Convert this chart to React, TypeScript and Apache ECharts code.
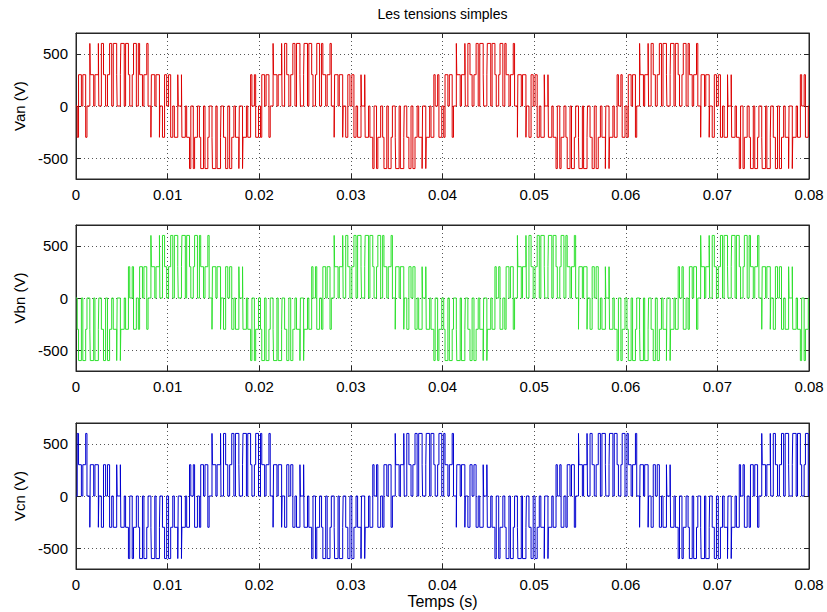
import React, { useEffect, useRef } from 'react';
import * as echarts from 'echarts';

// ---- texts ----
const chartTitle = 'Les tensions simples';
const xAxisTitle = 'Temps (s)';
const phaseNames = ['Van (V)', 'Vbn (V)', 'Vcn (V)'];
const phaseColors = ['#dc0000', '#2ee02e', '#0000d0'];

// ---- axes ----
const xMin = 0;
const xMax = 0.08;
const xStep = 0.01;
const yMin = -700;
const yMax = 700;
const yStep = 500;

// ---- waveform ----
// One fundamental period (0.02 s) of Van, cut into 15 carrier periods.
// Each entry: [time in carrier periods, new voltage level in V].
const fundamentalPeriod = 0.02;
const carriersPerPeriod = 15;
const periodsShown = 4;
// Vbn and Vcn repeat the same pattern 120° and 240° later (5 and 10 carrier periods).
const phaseLagCycles = [0, 5, 10];
const vanOnePeriod: number[][] = [
  [0.101, -300], [0.208, 300], [0.44, 0], [0.56, 300], [0.792, -300], [0.899, 0],
  [1.132, 600], [1.169, 300], [1.449, 0], [1.551, 300], [1.831, 600], [1.868, 0],
  [2.077, 600], [2.25, 300], [2.423, 0], [2.577, 300], [2.75, 600], [2.923, 0],
  [3.051, 600], [3.331, 300], [3.368, 0], [3.632, 300], [3.669, 600], [3.949, 0],
  [4.06, 600], [4.292, 300], [4.399, 0], [4.601, 300], [4.708, 600], [4.94, 0],
  [5.101, 600], [5.208, 300], [5.44, 0], [5.56, 300], [5.792, 600], [5.899, 0],
  [6.132, -300], [6.169, 300], [6.449, 0], [6.551, 300], [6.831, -300], [6.868, 0],
  [7.077, -300], [7.25, 300], [7.423, 0], [7.577, 300], [7.75, -300], [7.923, 0],
  [8.051, -300], [8.331, 300], [8.368, 0], [8.632, 300], [8.669, -300], [8.949, 0],
  [9.06, -300], [9.292, -600], [9.399, 0], [9.601, -600], [9.708, -300], [9.94, 0],
  [10.101, -300], [10.208, -600], [10.44, 0], [10.56, -600], [10.792, -300], [10.899, 0],
  [11.132, -300], [11.169, -600], [11.449, 0], [11.551, -600], [11.831, -300], [11.868, 0],
  [12.077, -300], [12.25, -600], [12.423, 0], [12.577, -600], [12.75, -300], [12.923, 0],
  [13.051, -300], [13.331, -600], [13.368, 0], [13.632, -600], [13.669, -300], [13.949, 0],
  [14.06, -300], [14.292, 300], [14.399, 0], [14.601, 300], [14.708, -300], [14.94, 0],
];

function buildPhase(lag: number): number[][] {
  const tc = fundamentalPeriod / carriersPerPeriod;
  const shifted = vanOnePeriod
    .map(([t, l]) => [(t + lag) % carriersPerPeriod, l])
    .sort((a, b) => a[0] - b[0]);
  const pts: number[][] = [[0, 0]];
  let prev = 0;
  for (let p = 0; p < periodsShown; p++) {
    for (const [t, l] of shifted) {
      const x = (p * carriersPerPeriod + t) * tc;
      pts.push([x, prev], [x, l]);
      prev = l;
    }
  }
  pts.push([periodsShown * fundamentalPeriod, prev]);
  return pts;
}

const FONT = '"Liberation Sans", Arial, Helvetica, sans-serif';
const AXIS_COLOR = '#262626';

export default function App() {
  const ref = useRef<HTMLDivElement>(null);
  useEffect(() => {
    if (!ref.current) return;
    const chart = echarts.init(ref.current, undefined, { renderer: 'svg' });
    const gridTops = [33, 225, 423];
    const gridHeight = 146;
    const grids = gridTops.map((top) => ({
      left: 76,
      right: 18,
      top,
      height: gridHeight,
      show: true,
      borderColor: AXIS_COLOR,
      borderWidth: 1,
      backgroundColor: '#fff',
    }));
    const tick = { show: true, inside: true, length: 5, lineStyle: { color: AXIS_COLOR, width: 1 } };
    const axisLine = { show: true, onZero: false, lineStyle: { color: AXIS_COLOR, width: 1 } };
    const gridLine = { show: true, lineStyle: { color: '#555', width: 1, type: [1, 3] } };
    const labelStyle = { color: '#000', fontSize: 15, fontFamily: FONT };

    const xAxes: any[] = [];
    const yAxes: any[] = [];
    for (let i = 0; i < 3; i++) {
      xAxes.push({
        type: 'value',
        gridIndex: i,
        position: 'bottom',
        min: xMin,
        max: xMax,
        interval: xStep,
        axisLine,
        axisTick: tick,
        splitLine: gridLine,
        axisLabel: {
          ...labelStyle,
          margin: 8,
          formatter: (v: number) => (v === 0 ? '0' : v.toFixed(2)),
        },
        name: i === 2 ? xAxisTitle : '',
        nameLocation: 'middle',
        nameGap: 24,
        nameTextStyle: { ...labelStyle, fontSize: 16 },
      });
      yAxes.push({
        type: 'value',
        gridIndex: i,
        position: 'left',
        min: yMin,
        max: yMax,
        minInterval: yStep,
        maxInterval: yStep,
        splitNumber: 3,
        axisLine,
        axisTick: tick,
        splitLine: gridLine,
        axisLabel: {
          ...labelStyle,
          margin: 8,
          formatter: (v: number) => (Math.abs(v) >= yMax ? '' : String(v)),
        },
        name: phaseNames[i],
        nameLocation: 'middle',
        nameGap: 28,
        nameTextStyle: { ...labelStyle },
      });
    }
    for (let i = 0; i < 3; i++) {
      xAxes.push({
        type: 'value',
        gridIndex: i,
        position: 'top',
        min: xMin,
        max: xMax,
        interval: xStep,
        axisLine,
        axisTick: tick,
        splitLine: { show: false },
        axisLabel: { show: false },
      });
      yAxes.push({
        type: 'value',
        gridIndex: i,
        position: 'right',
        min: yMin,
        max: yMax,
        minInterval: yStep,
        maxInterval: yStep,
        splitNumber: 3,
        axisLine,
        axisTick: tick,
        splitLine: { show: false },
        axisLabel: { show: false },
      });
    }

    const series = phaseLagCycles.map((lag, i) => ({
      type: 'line',
      name: phaseNames[i],
      xAxisIndex: i,
      yAxisIndex: i,
      data: buildPhase(lag),
      showSymbol: false,
      symbol: 'none',
      silent: true,
      clip: true,
      lineStyle: { color: phaseColors[i], width: 1 },
      itemStyle: { color: phaseColors[i] },
      z: 3,
    }));

    chart.setOption({
      animation: false,
      backgroundColor: '#fff',
      grid: grids,
      xAxis: xAxes,
      yAxis: yAxes,
      series,
      graphic: [
        {
          type: 'text',
          x: 442.5,
          y: 14,
          style: {
            text: chartTitle,
            fill: '#000',
            font: `14px ${FONT}`,
            textAlign: 'center',
            textVerticalAlign: 'middle',
            align: 'center',
            verticalAlign: 'middle',
          },
        },
      ],
    });
    return () => chart.dispose();
  }, []);
  return (
    <div
      ref={ref}
      style={{ position: 'fixed', left: 0, top: 0, width: 827, height: 612, background: '#fff' }}
    />
  );
}
